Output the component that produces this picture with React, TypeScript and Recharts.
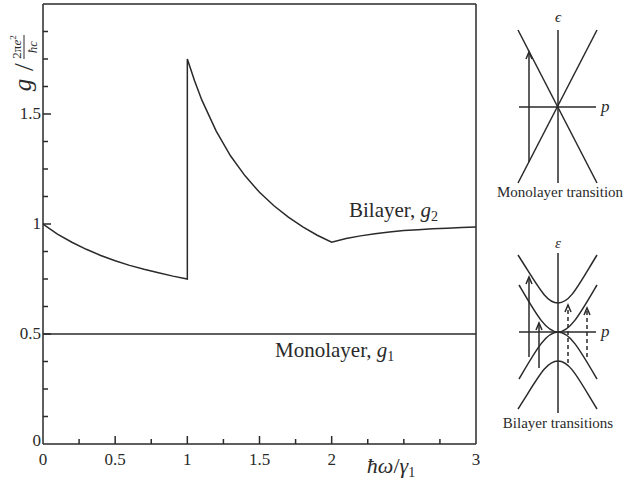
import React from 'react';
import { LineChart, Line, XAxis, YAxis, ReferenceLine } from 'recharts';

// bilayer conductivity g2 (units of 2πe²/ħc)
const bilayerX = [0, 0.1, 0.2, 0.3, 0.4, 0.5, 0.6, 0.7, 0.8, 0.9, 1.0, 1.0, 1.05, 1.1, 1.2, 1.3, 1.4, 1.5, 1.6, 1.7, 1.8, 1.9, 2.0, 2.1, 2.2, 2.3, 2.4, 2.5, 2.6, 2.7, 2.8, 2.9, 3.0];
const bilayerG = [1.0, 0.954, 0.917, 0.885, 0.857, 0.833, 0.812, 0.794, 0.778, 0.763, 0.75, 1.75, 1.651, 1.564, 1.422, 1.309, 1.219, 1.144, 1.083, 1.031, 0.987, 0.949, 0.917, 0.934, 0.946, 0.956, 0.964, 0.97, 0.974, 0.978, 0.981, 0.984, 0.986];

// monolayer g1 = 1/2
const monolayerX = [0, 3];
const monolayerG = [0.5, 0.5];

const xTicks = [0, 0.25, 0.5, 0.75, 1, 1.25, 1.5, 1.75, 2, 2.25, 2.5, 2.75, 3];
const xTickLabels: Record<string, string> = { '0': '0', '0.5': '0.5', '1': '1', '1.5': '1.5', '2': '2', '3': '3' };
const yTicks = [0, 0.125, 0.25, 0.375, 0.5, 0.625, 0.75, 0.875, 1, 1.125, 1.25, 1.375, 1.5, 1.625, 1.75, 1.875, 2];
const yTickLabels: Record<string, string> = { '0': '0', '0.5': '0.5', '1': '1', '1.5': '1.5' };

const bilayerData = bilayerX.map((x, i) => ({ x, g: bilayerG[i] }));
const monolayerData = monolayerX.map((x, i) => ({ x, g: monolayerG[i] }));

const INK = '#2a2a2a';
const FONT = 'Liberation Serif';

const isMajor = (v: number) => Math.abs(v * 2 - Math.round(v * 2)) < 1e-6;

const XTick = (props: any) => {
  const { x, y, payload } = props;
  const v = payload.value;
  const lab = xTickLabels[String(v)];
  const edge = v === 0 || v === 3;
  return (
    <g>
      {!edge && (
        <line x1={x} x2={x} y1={y} y2={y - (lab ? 8 : 5)} stroke={INK} strokeWidth={1.5} />
      )}
      {lab && (
        <text x={x} y={y + 21} textAnchor="middle" fontSize={17} fontFamily={FONT} fill={INK}>
          {lab}
        </text>
      )}
    </g>
  );
};

const YTick = (props: any) => {
  const { x, y, payload } = props;
  const v = payload.value;
  const lab = yTickLabels[String(v)];
  const edge = v === 0 || v === 2;
  return (
    <g>
      {!edge && (
        <line x1={x} x2={x + (isMajor(v) ? 8 : 5)} y1={y} y2={y} stroke={INK} strokeWidth={1.5} />
      )}
      {lab && (
        <text x={x - 2} y={y + (v === 0 ? 2 : 5)} textAnchor="end" fontSize={17} fontFamily={FONT} fill={INK}>
          {lab}
        </text>
      )}
    </g>
  );
};

const Arrow = ({ x, y1, y2, dashed }: { x: number; y1: number; y2: number; dashed?: boolean }) => (
  <g stroke={INK} strokeWidth={1.5} fill="none">
    <line x1={x} x2={x} y1={y1} y2={y2} strokeDasharray={dashed ? '4 3' : undefined} />
    <polyline points={`${x - 3},${y2 + 7} ${x},${y2} ${x + 3},${y2 + 7}`} />
  </g>
);

// schematic band pictures on the right
const Insets = () => (
  <svg width={626} height={481} style={{ position: 'absolute', left: 0, top: 0, pointerEvents: 'none' }}>
    <g stroke={INK} strokeWidth={1.5} fill="none">
      <line x1={558} x2={558} y1={30} y2={183} />
      <line x1={519} x2={596} y1={107} y2={107} />
      <line x1={518} x2={597} y1={30} y2={183} />
      <line x1={597} x2={518} y1={30} y2={183} />
    </g>
    <Arrow x={529} y1={162} y2={52} />
    <text x={558} y={22} textAnchor="middle" fontSize={15} fontStyle="italic" fontFamily={FONT} fill={INK}>ϵ</text>
    <text x={601} y={112} fontSize={17} fontStyle="italic" fontFamily={FONT} fill={INK}>p</text>
    <text x={560} y={197} textAnchor="middle" fontSize={15} fontFamily={FONT} fill={INK}>Monolayer transition</text>

    <g stroke={INK} strokeWidth={1.5} fill="none">
      <line x1={558} x2={558} y1={253} y2={413} />
      <line x1={519} x2={596} y1={332} y2={332} />
      <path d="M518,255 C538,286 546,303 558,303 C570,303 578,286 597,255" />
      <path d="M519,285 C536,314 546,332 558,332 C570,332 580,314 597,285" />
      <path d="M519,379 C536,350 546,332 558,332 C570,332 580,350 597,379" />
      <path d="M518,409 C538,378 546,361 558,361 C570,361 578,378 597,409" />
    </g>
    <Arrow x={529} y1={357} y2={277} />
    <Arrow x={539} y1={368} y2={323} />
    <Arrow x={568} y1={363} y2={305} dashed />
    <Arrow x={587} y1={357} y2={308} dashed />
    <text x={558} y={248} textAnchor="middle" fontSize={15} fontStyle="italic" fontFamily={FONT} fill={INK}>ε</text>
    <text x={601} y={337} fontSize={17} fontStyle="italic" fontFamily={FONT} fill={INK}>p</text>
    <text x={558} y={428} textAnchor="middle" fontSize={15} fontFamily={FONT} fill={INK}>Bilayer transitions</text>
  </svg>
);

const App: React.FC = () => {
  return (
    <div style={{ position: 'absolute', left: 0, top: 0, width: 626, height: 481, fontFamily: FONT }}>
      <LineChart width={626} height={481} margin={{ top: 4, right: 150, left: 0, bottom: 0 }}>
        <XAxis
          type="number"
          dataKey="x"
          domain={[0, 3]}
          ticks={xTicks}
          interval={0}
          height={37}
          tickSize={0}
          tickMargin={0}
          tickLine={false}
          tick={<XTick />}
          axisLine={{ stroke: INK, strokeWidth: 1.5 }}
          allowDataOverflow
        />
        <YAxis
          type="number"
          domain={[0, 2]}
          ticks={yTicks}
          interval={0}
          width={43}
          tickSize={0}
          tickMargin={0}
          tickLine={false}
          tick={<YTick />}
          axisLine={{ stroke: INK, strokeWidth: 1.5 }}
          allowDataOverflow
        />
        <ReferenceLine x={3} stroke={INK} strokeWidth={1.5} />
        <ReferenceLine y={2} stroke={INK} strokeWidth={1.5} />
        <Line data={monolayerData} dataKey="g" type="linear" stroke={INK} strokeWidth={1.5} dot={false} isAnimationActive={false} />
        <Line data={bilayerData} dataKey="g" type="linear" stroke={INK} strokeWidth={1.5} dot={false} isAnimationActive={false} />
        <text x={349} y={217} fontSize={21} fontFamily={FONT} fill={INK}>
          Bilayer, <tspan fontStyle="italic">g</tspan><tspan fontSize={14} dy={4}>2</tspan>
        </text>
        <text x={275} y={357} fontSize={21} fontFamily={FONT} fill={INK}>
          Monolayer, <tspan fontStyle="italic">g</tspan><tspan fontSize={14} dy={4}>1</tspan>
        </text>
        <text x={391} y={473} textAnchor="middle" fontSize={22} fontFamily={FONT} fill={INK}>
          <tspan fontStyle="italic">ħω</tspan>/<tspan fontStyle="italic">γ</tspan><tspan fontSize={14} dy={4}>1</tspan>
        </text>
        <g transform="translate(28,57) rotate(-90)" fill={INK} fontFamily={FONT}>
          <text x={-28} y={3} textAnchor="middle" fontSize={25} fontStyle="italic">g</text>
          <text x={-10} y={5} textAnchor="middle" fontSize={28}>/</text>
          <text x={10} y={-7} textAnchor="middle" fontSize={13}>
            2π<tspan fontStyle="italic">e</tspan><tspan fontSize={9} dy={-5}>2</tspan>
          </text>
          <line x1={-2} x2={22} y1={-4} y2={-4} stroke={INK} strokeWidth={1} />
          <text x={10} y={9} textAnchor="middle" fontSize={13} fontStyle="italic">ħc</text>
        </g>
      </LineChart>
      <Insets />
    </div>
  );
};

export default App;
